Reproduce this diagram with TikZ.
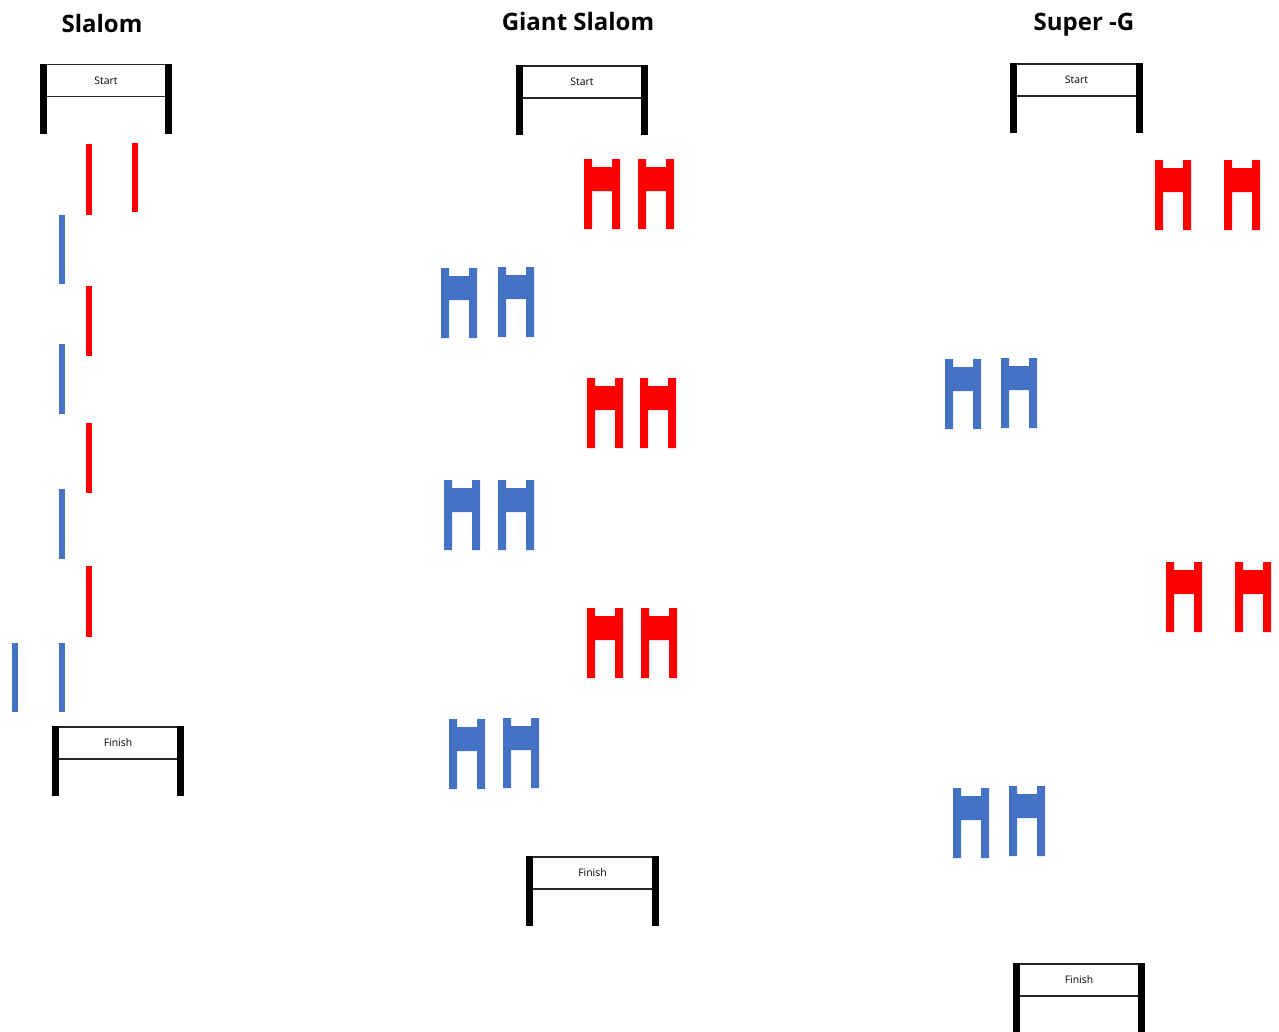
\documentclass[tikz,border=0pt]{standalone}
\usepackage{fontspec}
\setmainfont{Open Sans}
\usepackage{xcolor}
\usepackage{tikz}
\definecolor{gateblue}{RGB}{68,114,196}
\definecolor{gatered}{RGB}{255,0,0}

\begin{document}
\begin{tikzpicture}[x=0.75pt, y=-0.75pt,
  title/.style={font=\fontsize{18}{21}\selectfont\bfseries, anchor=base},
  banner/.style={draw=black!85, line width=1.1pt, minimum width=93pt, minimum height=24pt, inner sep=0pt, font=\fontsize{7.8}{9}\selectfont},
  post/.style={line width=5.25pt, black},
  pole/.style={line width=5pt},
  gsgate/.pic={\fill (0,0) -- (8,0) -- (8,8) -- (28,8) -- (28,0) -- (36,0) -- (36,70) -- (28,70) -- (28,32) -- (8,32) -- (8,70) -- (0,70) -- cycle;}]
\useasboundingbox (0,0) rectangle (1279,1032);

\node[title] (sl) at (102,32) {Slalom};
\node[title] (gs) at (578,30) {Giant Slalom};
\node[title] (sg) at (1084,30) {Super -G};

% start and finish
\node[banner] (slstart) at (106,80.5) {Start};
\draw[post] (slstart.north west) -- ++(0,70);
\draw[post] (slstart.north east) -- ++(0,70);
\node[banner] (slfinish) at (118,743) {Finish};
\draw[post] (slfinish.north west) -- ++(0,70);
\draw[post] (slfinish.north east) -- ++(0,70);
\node[banner] (gsstart) at (582,82) {Start};
\draw[post] (gsstart.north west) -- ++(0,70);
\draw[post] (gsstart.north east) -- ++(0,70);
\node[banner] (gsfinish) at (592.5,873) {Finish};
\draw[post] (gsfinish.north west) -- ++(0,70);
\draw[post] (gsfinish.north east) -- ++(0,70);
\node[banner] (sgstart) at (1076.5,80) {Start};
\draw[post] (sgstart.north west) -- ++(0,70);
\draw[post] (sgstart.north east) -- ++(0,70);
\node[banner] (sgfinish) at (1079,980) {Finish};
\draw[post] (sgfinish.north west) -- ++(0,70);
\draw[post] (sgfinish.north east) -- ++(0,70);

% slalom poles
\draw[pole, gatered] (89,144) -- (89,215);
\draw[pole, gatered] (135,143) -- (135,212);
\draw[pole, gateblue] (62,215) -- (62,284);
\draw[pole, gatered] (89,286) -- (89,356);
\draw[pole, gateblue] (62,344) -- (62,414);
\draw[pole, gatered] (89,423) -- (89,493);
\draw[pole, gateblue] (62,489) -- (62,559);
\draw[pole, gatered] (89,566) -- (89,637);
\draw[pole, gateblue] (15,643) -- (15,712);
\draw[pole, gateblue] (62,643) -- (62,712);

% giant slalom gates
\pic[gatered] at (584,159) {gsgate};
\pic[gatered] at (638,159) {gsgate};
\pic[gateblue] at (441,268) {gsgate};
\pic[gateblue] at (498,267) {gsgate};
\pic[gatered] at (587,378) {gsgate};
\pic[gatered] at (640,378) {gsgate};
\pic[gateblue] at (444,480) {gsgate};
\pic[gateblue] at (498,480) {gsgate};
\pic[gatered] at (587,608) {gsgate};
\pic[gatered] at (641,608) {gsgate};
\pic[gateblue] at (449,719) {gsgate};
\pic[gateblue] at (503,718) {gsgate};

% super-g gates
\pic[gatered] at (1155,160) {gsgate};
\pic[gatered] at (1224,160) {gsgate};
\pic[gateblue] at (945,359) {gsgate};
\pic[gateblue] at (1001,358) {gsgate};
\pic[gatered] at (1166,562) {gsgate};
\pic[gatered] at (1235,562) {gsgate};
\pic[gateblue] at (953,788) {gsgate};
\pic[gateblue] at (1009,786) {gsgate};

\end{tikzpicture}
\end{document}
